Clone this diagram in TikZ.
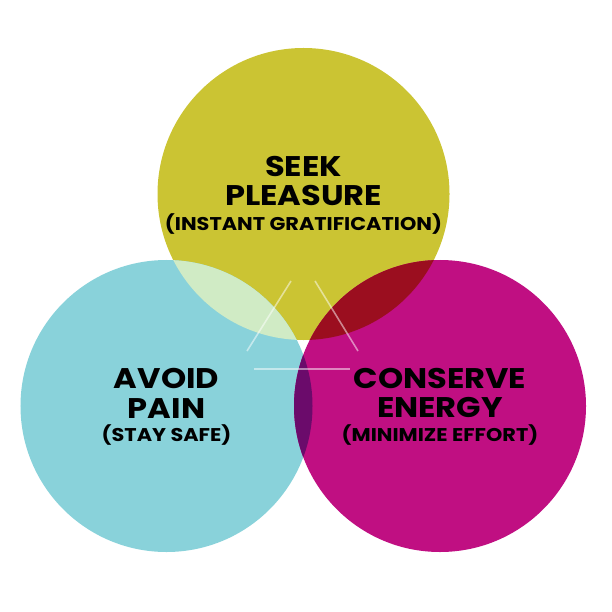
\documentclass[tikz,border=0pt]{standalone}
\usepackage{fontspec}
\setmainfont{Poppins}[BoldFont={* Bold}, FakeStretch=1.13]
\usepackage{xcolor}
\usepackage{tikz}
\usetikzlibrary{positioning,calc}

\definecolor{seekyellow}{HTML}{CBC433}
\definecolor{avoidblue}{HTML}{89D2DA}
\definecolor{conservepink}{HTML}{C00F82}
\definecolor{mixgreen}{HTML}{D0EBC5}
\definecolor{mixred}{HTML}{9B0E1F}
\definecolor{mixpurple}{HTML}{6B0B6B}

\begin{document}
\begin{tikzpicture}[
    x=1bp, y=-1bp,
    drive/.style={circle, minimum size=292bp, inner sep=0pt},
    title/.style={font=\bfseries\fontsize{28.5}{30}\selectfont, align=center, inner sep=0pt},
    sub/.style={font=\bfseries\fontsize{18.5}{20}\selectfont, inner sep=0pt},
    hint/.style={white, opacity=0.5, line width=1.6bp}
]
    \useasboundingbox (0,0) rectangle (612,612);

    % The three drives
    \node[drive, fill=seekyellow] (seek) at (303.5,194) {};
    \node[drive, fill=avoidblue] (avoid) at (166.5,406) {};
    \node[drive, fill=conservepink] (conserve) at (440,406) {};

    % Overlaps
    \begin{scope}
        \clip (avoid.center) circle (146);
        \fill[mixgreen] (seek.center) circle (146);
    \end{scope}
    \begin{scope}
        \clip (conserve.center) circle (146);
        \fill[mixred] (seek.center) circle (146);
    \end{scope}
    \begin{scope}
        \clip (avoid.center) circle (146);
        \fill[mixpurple] (conserve.center) circle (146);
    \end{scope}

    % Faint triangle strokes in the middle
    \draw[hint] (247,351) -- (291,281);
    \draw[hint] (315,281) -- (358,351);
    \draw[hint] (254,369) -- (350,369);

    % Labels
    \node[title] (seekt) at (303.5,181) {SEEK\\PLEASURE};
    \node[sub, below=7bp of seekt] {(INSTANT GRATIFICATION)};
    \node[title] (avoidt) at (166.5,393) {AVOID\\PAIN};
    \node[sub, below=6bp of avoidt] {(STAY SAFE)};
    \node[title] (conservet) at (440,393) {CONSERVE\\ENERGY};
    \node[sub, below=6bp of conservet] {(MINIMIZE EFFORT)};
\end{tikzpicture}
\end{document}
